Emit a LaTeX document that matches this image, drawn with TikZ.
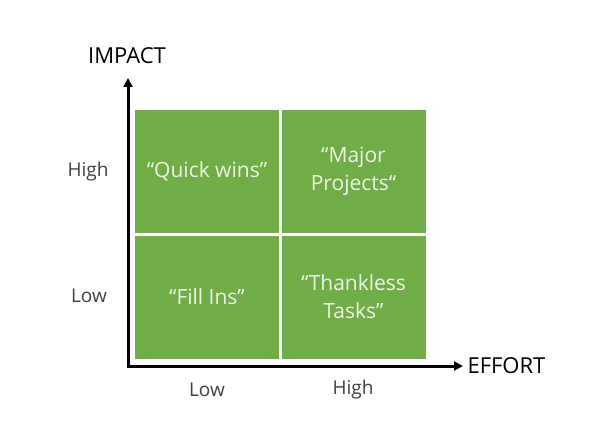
\documentclass[tikz,border=0pt]{standalone}
\usepackage{fontspec}
\setmainfont{Open Sans}
\usetikzlibrary{arrows.meta,positioning}
\definecolor{quadgreen}{HTML}{70AD47}
\definecolor{quadtext}{HTML}{EEF5E6}
\definecolor{ticktext}{HTML}{404040}
\begin{document}
\begin{tikzpicture}[x=1pt,y=-1pt,
  quad node/.style={rectangle,fill=quadgreen,minimum width=144pt,minimum height=123pt,inner sep=0pt,
    text=quadtext,align=center,font=\fontsize{21}{28}\selectfont},
  tick node/.style={text=ticktext,font=\fontsize{19}{22}\selectfont},
  axis node/.style={text=black,font=\fontsize{22}{26}\selectfont},
  axis/.style={line width=3pt,-{Triangle[length=9pt,width=9pt]}}]
  \useasboundingbox (0,0) rectangle (616,433);
  % quadrants
  \node[quad node] (qw) at (207,171.5) {“Quick wins”};
  \node[quad node] (mp) at (353.5,171.5) {“Major\\Projects“};
  \node[quad node] (fi) at (207,297) {“Fill Ins”};
  \node[quad node] (tt) at (353.5,297) {“Thankless\\Tasks”};
  % axes
  \coordinate (o) at (128,366);
  \coordinate (ytop) at (128,78);
  \coordinate (xend) at (463,366);
  \draw[axis] ([xshift=-1.5pt]o) -- (xend);
  \draw[axis] ([yshift=1.5pt]o) -- (ytop);
  \node[axis node] (impact) at (127,56) {IMPACT};
  \node[axis node,right=1pt of xend] (effort) {EFFORT};
  % tick labels
  \node[tick node] (yhigh) at (88,172) {High};
  \node[tick node] (ylow) at (89,296) {Low};
  \node[tick node] (xlow) at (207,390) {Low};
  \node[tick node] (xhigh) at (353,390) {High};
\end{tikzpicture}
\end{document}
